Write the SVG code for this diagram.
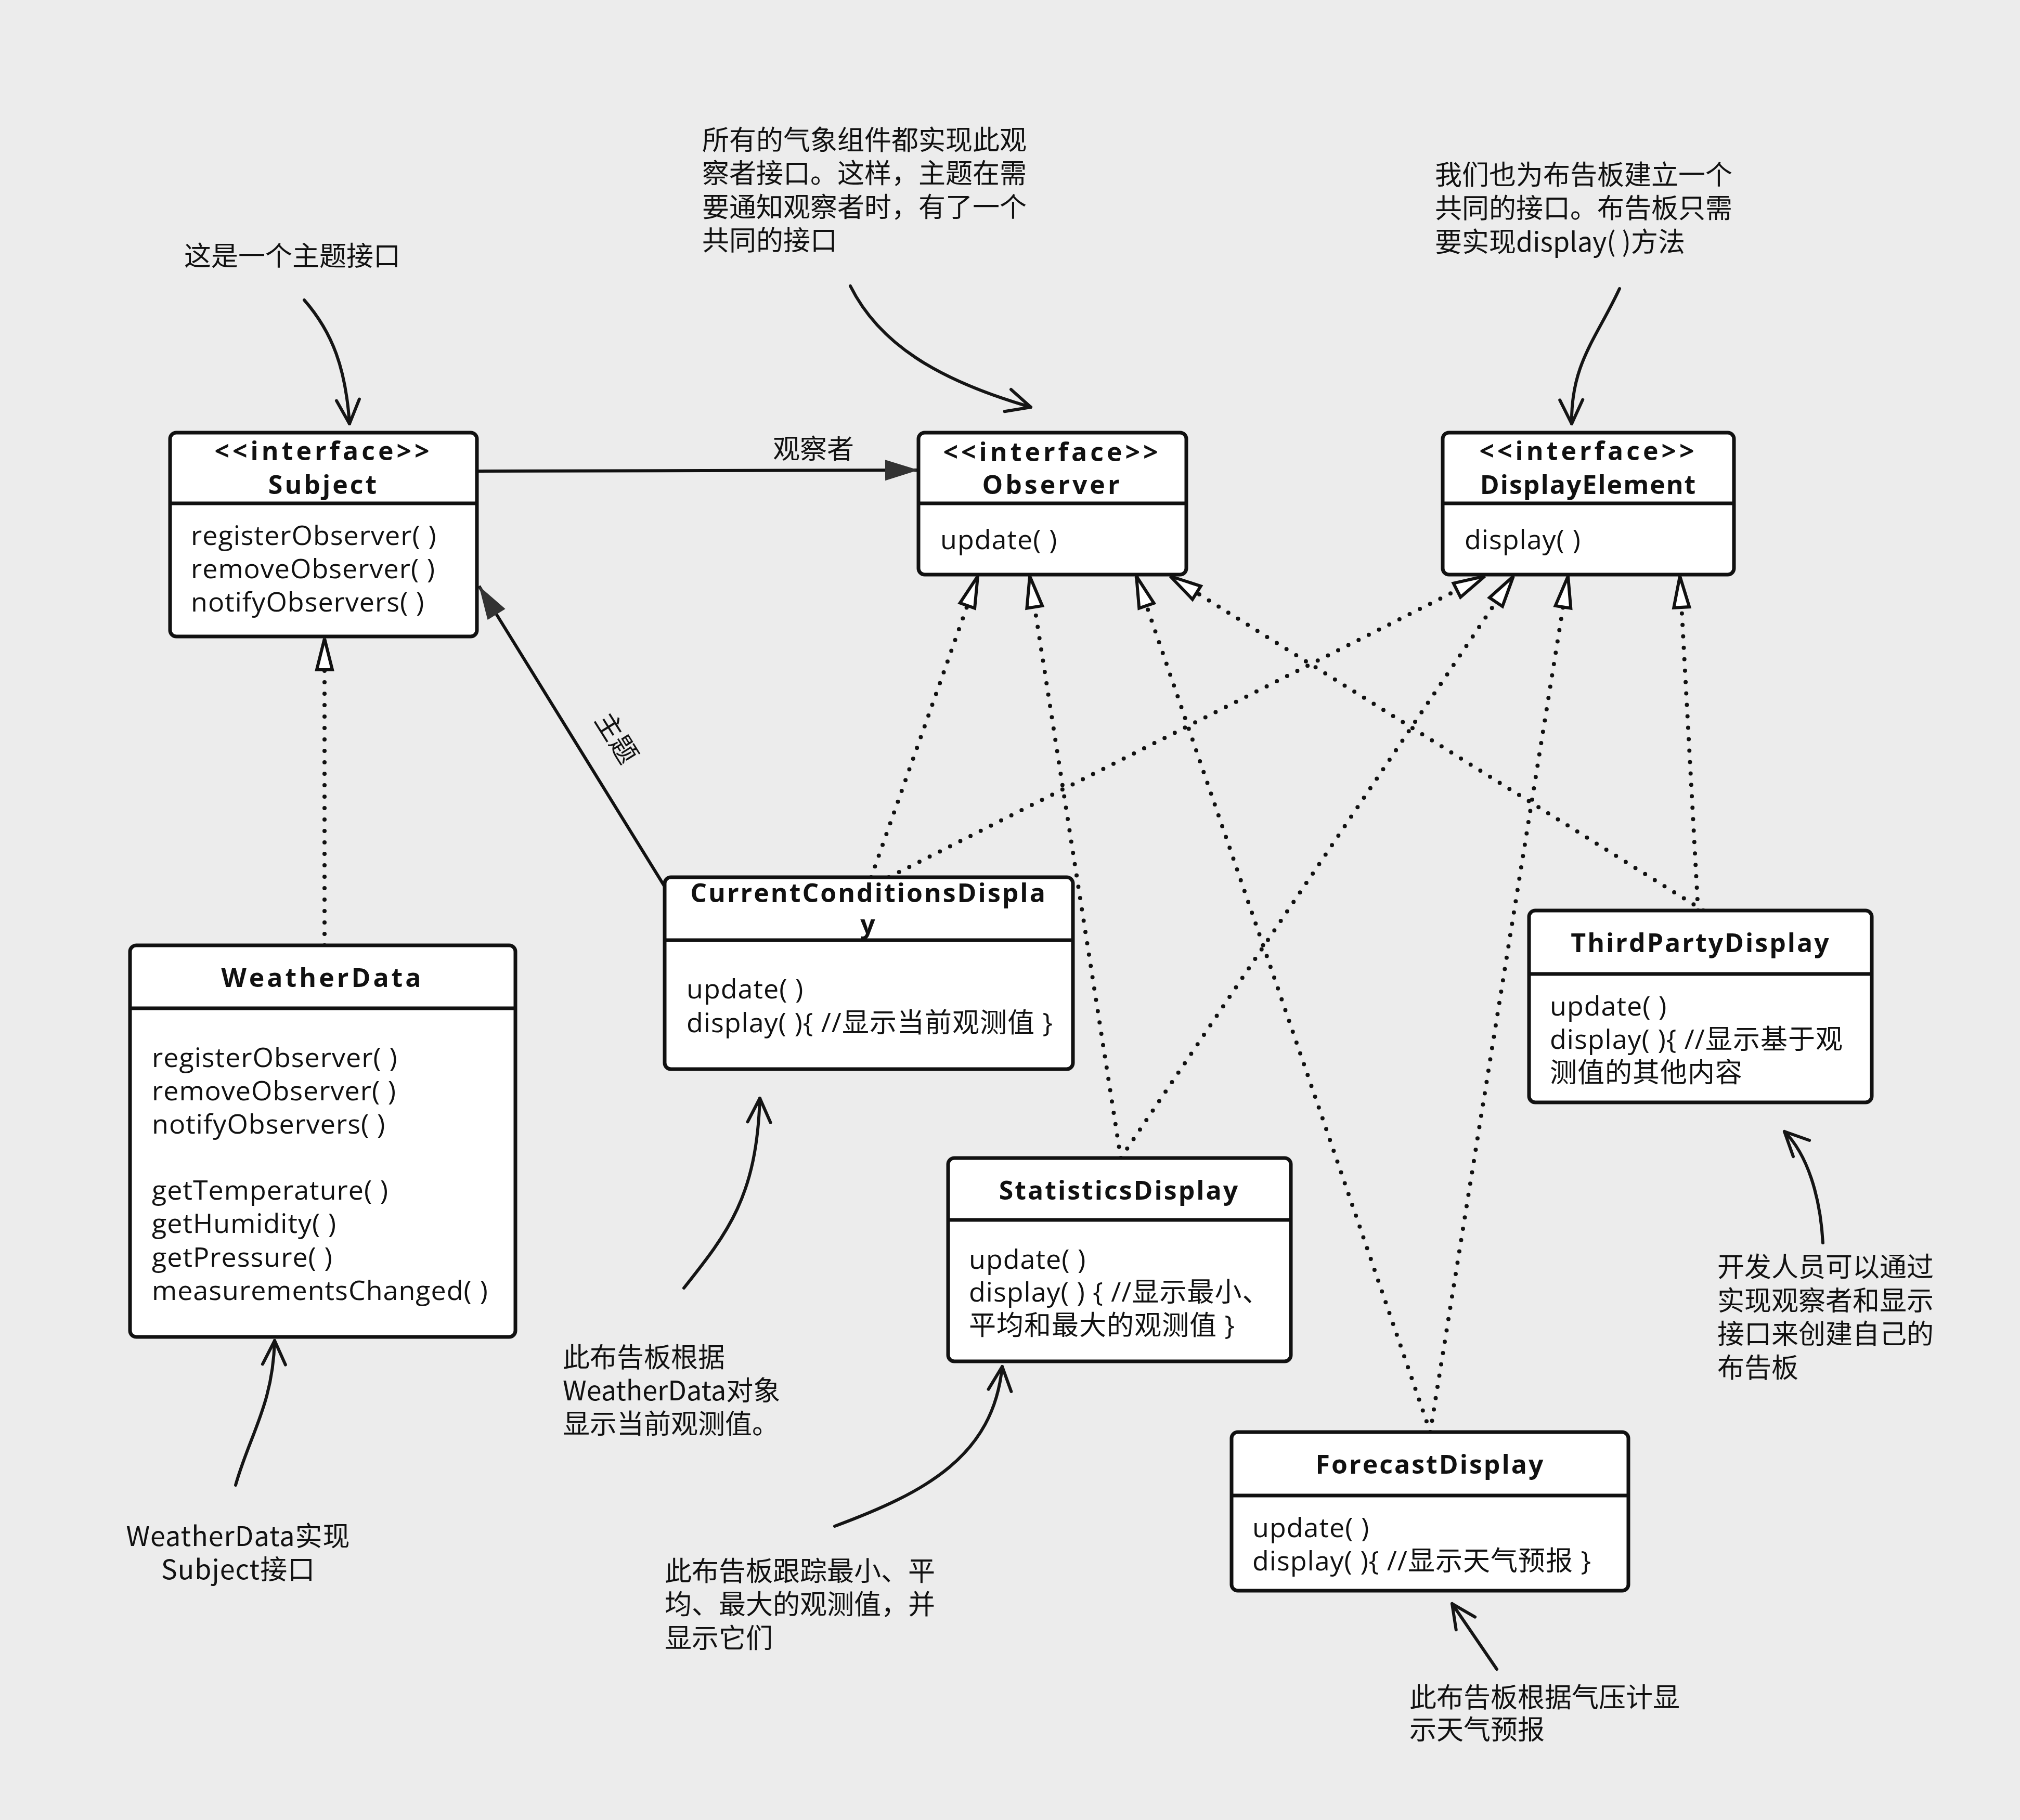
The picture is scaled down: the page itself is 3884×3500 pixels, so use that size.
<svg xmlns="http://www.w3.org/2000/svg" width="3884" height="3500" viewBox="0 0 3884 3500">
<defs>
<style>
.box{fill:#fff;stroke:#111;stroke-width:7}
.div{stroke:#111;stroke-width:7}
.ttl{font-family:"Open Sans","Noto Sans CJK SC",sans-serif;font-weight:bold;font-size:50px;fill:#111;text-anchor:middle}
.m{font-family:"Open Sans","Noto Sans CJK SC",sans-serif;font-size:52px;fill:#111;letter-spacing:1px}
.note{font-family:"Noto Sans CJK SC","Noto Sans",sans-serif;font-size:52px;fill:#111}
.dot{fill:none;stroke:#111;stroke-width:8;stroke-dasharray:0 22;stroke-linecap:round}
.solid{fill:none;stroke:#111;stroke-width:6}
.curve{fill:none;stroke:#151515;stroke-width:6;stroke-linecap:round}
</style>
<marker id="hollow" viewBox="0 0 64 36" refX="62" refY="18" markerWidth="64" markerHeight="36" markerUnits="userSpaceOnUse" orient="auto" overflow="visible">
<path d="M2,3 L62,18 L2,33 Z" fill="#fff" stroke="#111" stroke-width="6" stroke-linejoin="miter"/>
</marker>
<marker id="filled" viewBox="0 0 64 40" refX="64" refY="20" markerWidth="64" markerHeight="40" markerUnits="userSpaceOnUse" orient="auto" overflow="visible">
<path d="M0,0 L64,20 L0,40 Z" fill="#333"/>
</marker>
<marker id="vee" viewBox="0 0 50 50" refX="48" refY="25" markerWidth="50" markerHeight="50" markerUnits="userSpaceOnUse" orient="auto" overflow="visible">
<path d="M2,3 L48,25 L2,47" fill="none" stroke="#151515" stroke-width="6" stroke-linecap="round" stroke-linejoin="round"/>
</marker>
</defs>
<rect width="3884" height="3500" fill="#ececec"/>

<g id="connectors">
<line x1="917" y1="906" x2="1766" y2="904" class="solid" marker-end="url(#filled)"/>
<line x1="1278" y1="1705" x2="921" y2="1127" class="solid" marker-end="url(#filled)"/>
<line x1="624" y1="1818" x2="624" y2="1228" class="dot" marker-end="url(#hollow)"/>
<line x1="1675" y1="1687" x2="1880" y2="1108" class="dot" marker-end="url(#hollow)"/>
<line x1="2155" y1="2227" x2="1980" y2="1108" class="dot" marker-end="url(#hollow)"/>
<line x1="2750" y1="2754" x2="2185" y2="1108" class="dot" marker-end="url(#hollow)"/>
<line x1="3275" y1="1751" x2="2250" y2="1108" class="dot" marker-end="url(#hollow)"/>
<line x1="1709" y1="1687" x2="2855" y2="1108" class="dot" marker-end="url(#hollow)"/>
<line x1="2155" y1="2227" x2="2910" y2="1108" class="dot" marker-end="url(#hollow)"/>
<line x1="2750" y1="2754" x2="3015" y2="1108" class="dot" marker-end="url(#hollow)"/>
<line x1="3265" y1="1751" x2="3230" y2="1108" class="dot" marker-end="url(#hollow)"/>
<text class="note" x="1486" y="882">观察者</text>
<text class="note" x="1189" y="1417" text-anchor="middle" dominant-baseline="central" transform="rotate(58 1189 1417)">主题</text>
</g>

<g id="annotation-arrows">
<path class="curve" d="M585,577 C640,640 665,710 672,815" marker-end="url(#vee)"/>
<path class="curve" d="M1635,550 C1690,660 1800,730 1982,783" marker-end="url(#vee)"/>
<path class="curve" d="M3114,555 C3070,650 3020,700 3022,815" marker-end="url(#vee)"/>
<path class="curve" d="M1315,2477 C1400,2370 1455,2300 1461,2112" marker-end="url(#vee)"/>
<path class="curve" d="M453,2856 C480,2760 525,2700 528,2578" marker-end="url(#vee)"/>
<path class="curve" d="M1605,2935 C1780,2870 1910,2800 1927,2628" marker-end="url(#vee)"/>
<path class="curve" d="M3505,2390 C3500,2300 3475,2220 3431,2176" marker-end="url(#vee)"/>
<path class="curve" d="M2878,3210 L2792,3084" marker-end="url(#vee)"/>
</g>

<g id="Subject">
<rect class="box" x="327" y="832" width="590" height="392" rx="12"/>
<line class="div" x1="327" y1="968" x2="917" y2="968"/>
<text class="ttl" x="622" y="885"><tspan x="622" y="885" style="letter-spacing:6px">&lt;&lt;interface&gt;&gt;</tspan><tspan x="622" y="950" style="letter-spacing:4px">Subject</tspan></text>
<text class="m"><tspan x="367" y="1048">registerObserver( )</tspan><tspan x="367" y="1112">removeObserver( )</tspan><tspan x="367" y="1176">notifyObservers( )</tspan></text>
</g>

<g id="Observer">
<rect class="box" x="1766" y="832" width="515" height="273" rx="12"/>
<line class="div" x1="1766" y1="968" x2="2281" y2="968"/>
<text class="ttl"><tspan x="2023" y="887" style="letter-spacing:6px">&lt;&lt;interface&gt;&gt;</tspan><tspan x="2023" y="950" style="letter-spacing:5px">Observer</tspan></text>
<text class="m" x="1808" y="1056">update( )</text>
</g>

<g id="DisplayElement">
<rect class="box" x="2774" y="832" width="560" height="273" rx="12"/>
<line class="div" x1="2774" y1="968" x2="3334" y2="968"/>
<text class="ttl"><tspan x="3054" y="885" style="letter-spacing:6px">&lt;&lt;interface&gt;&gt;</tspan><tspan x="3054" y="950" style="letter-spacing:2px">DisplayElement</tspan></text>
<text class="m" x="2816" y="1056">display( )</text>
</g>

<g id="WeatherData">
<rect class="box" x="250" y="1818" width="741" height="753" rx="12"/>
<line class="div" x1="250" y1="1939" x2="991" y2="1939"/>
<text class="ttl" x="620" y="1898" style="letter-spacing:5px">WeatherData</text>
<text class="m"><tspan x="292" y="2052">registerObserver( )</tspan><tspan x="292" y="2116">removeObserver( )</tspan><tspan x="292" y="2180">notifyObservers( )</tspan><tspan x="292" y="2307">getTemperature( )</tspan><tspan x="292" y="2371">getHumidity( )</tspan><tspan x="292" y="2436">getPressure( )</tspan><tspan x="292" y="2500">measurementsChanged( )</tspan></text>
</g>

<g id="CurrentConditionsDisplay">
<rect class="box" x="1278" y="1687" width="785" height="369" rx="12"/>
<line class="div" x1="1278" y1="1808" x2="2063" y2="1808"/>
<text class="ttl" style="letter-spacing:3px"><tspan x="1670" y="1735">CurrentConditionsDispla</tspan><tspan x="1670" y="1795">y</tspan></text>
<text class="m"><tspan x="1320" y="1920">update( )</tspan><tspan x="1320" y="1985">display( ){ //显示当前观测值 }</tspan></text>
</g>

<g id="StatisticsDisplay">
<rect class="box" x="1823" y="2227" width="659" height="391" rx="12"/>
<line class="div" x1="1823" y1="2346" x2="2482" y2="2346"/>
<text class="ttl" x="2152" y="2307" style="letter-spacing:3px">StatisticsDisplay</text>
<text class="m"><tspan x="1863" y="2440">update( )</tspan><tspan x="1863" y="2503">display( ) { //显示最小、</tspan><tspan x="1863" y="2567">平均和最大的观测值 }</tspan></text>
</g>

<g id="ThirdPartyDisplay">
<rect class="box" x="2940" y="1751" width="659" height="369" rx="12"/>
<line class="div" x1="2940" y1="1873" x2="3599" y2="1873"/>
<text class="ttl" x="3270" y="1831" style="letter-spacing:3px">ThirdPartyDisplay</text>
<text class="m"><tspan x="2980" y="1953">update( )</tspan><tspan x="2980" y="2017">display( ){ //显示基于观</tspan><tspan x="2980" y="2081">测值的其他内容</tspan></text>
</g>

<g id="ForecastDisplay">
<rect class="box" x="2368" y="2754" width="763" height="305" rx="12"/>
<line class="div" x1="2368" y1="2876" x2="3131" y2="2876"/>
<text class="ttl" x="2750" y="2834" style="letter-spacing:3px">ForecastDisplay</text>
<text class="m"><tspan x="2408" y="2956">update( )</tspan><tspan x="2408" y="3020">display( ){ //显示天气预报 }</tspan></text>
</g>

<g id="notes">
<text class="note" x="354" y="511">这是一个主题接口</text>
<text class="note"><tspan x="1350" y="288">所有的气象组件都实现此观</tspan><tspan x="1350" y="352">察者接口。这样，主题在需</tspan><tspan x="1350" y="417">要通知观察者时，有了一个</tspan><tspan x="1350" y="481">共同的接口</tspan></text>
<text class="note"><tspan x="2759" y="355">我们也为布告板建立一个</tspan><tspan x="2759" y="419">共同的接口。布告板只需</tspan><tspan x="2759" y="484">要实现display( )方法</tspan></text>
<text class="note"><tspan x="1082" y="2629">此布告板根据</tspan><tspan x="1082" y="2693">WeatherData对象</tspan><tspan x="1082" y="2757">显示当前观测值。</tspan></text>
<text class="note" text-anchor="middle" style="letter-spacing:1px"><tspan x="458" y="2973">WeatherData实现</tspan><tspan x="458" y="3037">Subject接口</tspan></text>
<text class="note"><tspan x="1278" y="3040">此布告板跟踪最小、平</tspan><tspan x="1278" y="3104">均、最大的观测值，并</tspan><tspan x="1278" y="3169">显示它们</tspan></text>
<text class="note"><tspan x="3302" y="2455">开发人员可以通过</tspan><tspan x="3302" y="2520">实现观察者和显示</tspan><tspan x="3302" y="2584">接口来创建自己的</tspan><tspan x="3302" y="2649">布告板</tspan></text>
<text class="note"><tspan x="2710" y="3283">此布告板根据气压计显</tspan><tspan x="2710" y="3345">示天气预报</tspan></text>
</g>
</svg>
